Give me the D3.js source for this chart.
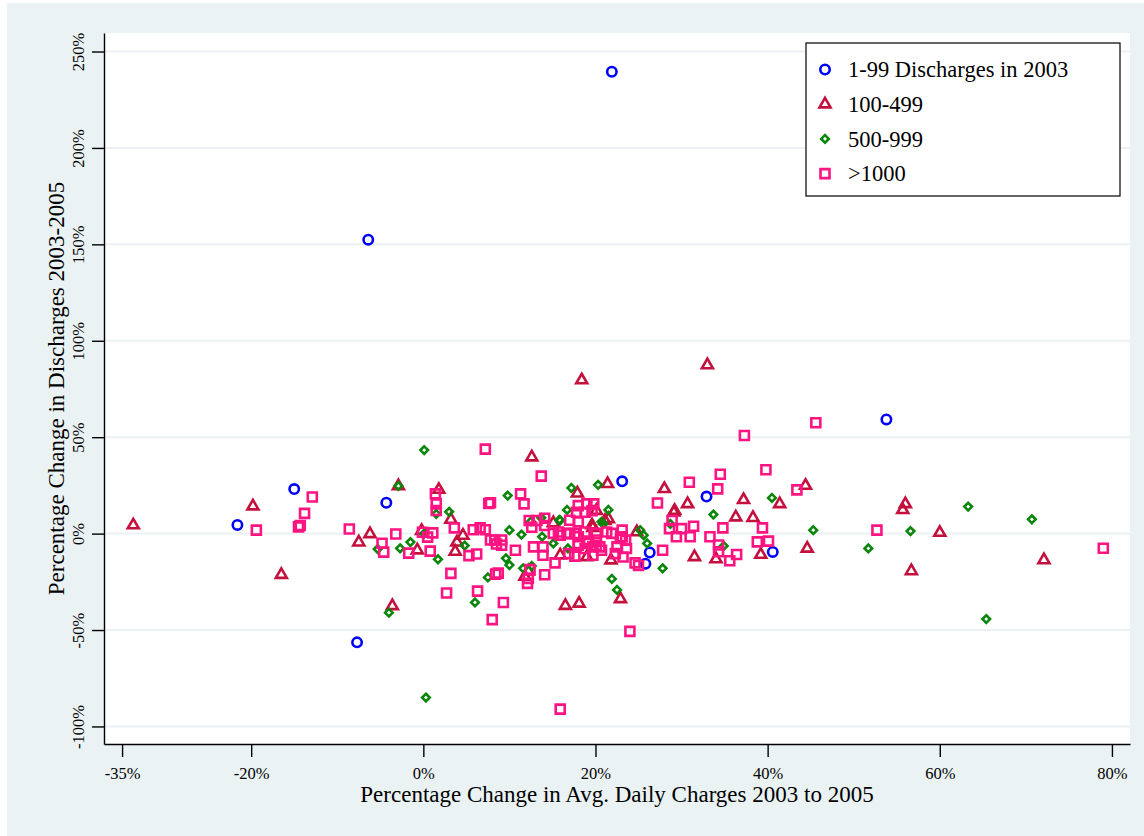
<!DOCTYPE html>
<html lang="en">
<head>
<meta charset="UTF-8">
<title>discharges-vs-charges</title>
<script src="https://cdn.jsdelivr.net/npm/d3@7"></script>
<style>
  body { margin: 0; background: #fff; }
  text { font-family: "Liberation Serif", "Times New Roman", serif; fill: #000; }
</style>
</head>
<body>
<script>
// [x = % change in avg. daily charges, y = % change in discharges]
const small = [
  [21.9, 239.5], [-6.4, 152.4], [53.8, 59.2], [23.1, 27.1], [32.9, 19.2], [-15.0, 23.1],
  [-4.3, 16.0], [-21.6, 4.5], [-7.7, -56.4], [26.3, -9.8], [25.8, -15.6], [40.6, -9.5]
];
const mid = [
  [-33.7, 4.4], [-19.8, 14.2], [-16.5, -21.3], [-6.2, -0.2], [-7.5, -4.5], [-2.9, 24.7],
  [-3.6, -37.5], [-0.2, 1.5], [-0.7, -8.6], [1.8, 22.8], [3.2, 7.3], [4.6, -1.0],
  [3.9, -4.5], [3.7, -9.3], [12.6, 39.6], [17.9, 20.9], [21.4, 25.8], [28.0, 23.2],
  [18.4, 79.6], [33.0, 87.4], [20.1, 11.9], [21.5, 7.6], [21.1, 6.7], [15.1, 5.5],
  [19.7, 3.0], [21.8, -13.8], [19.0, -12.1], [15.9, -11.2], [24.8, 0.8], [11.8, -22.3],
  [16.5, -37.4], [18.1, -36.2], [22.9, -33.9], [19.6, 4.4], [30.7, 15.4], [29.2, 11.9],
  [29.1, 11.0], [36.3, 8.5], [38.3, 8.2], [37.2, 17.5], [41.4, 15.4], [44.4, 24.9],
  [44.6, -7.7], [31.5, -12.1], [34.0, -13.2], [39.2, -10.9], [56.0, 15.4], [55.7, 12.3],
  [60.0, 0.5], [56.7, -19.4], [72.1, -13.7], [12.2, -19.5]
];
const large = [
  [0.1, 43.3], [-2.9, 24.7], [-5.3, -8.0], [-2.7, -7.6], [-1.5, -4.4], [0.1, 0.0],
  [1.7, -13.3], [1.5, 10.2], [3.0, 11.3], [4.8, -6.2], [7.5, -22.7], [6.0, -35.7],
  [-4.0, -41.0], [0.3, -85.0], [17.2, 23.7], [20.3, 25.3], [9.8, 19.7], [16.7, 12.3],
  [21.5, 12.3], [15.8, 7.1], [12.5, 6.3], [13.7, 8.2], [25.2, 1.8], [25.6, -0.8],
  [26.0, -5.1], [27.8, -18.0], [16.8, -7.7], [11.4, -0.5], [13.8, -1.6], [10.0, 1.8],
  [9.6, -12.8], [10.0, -16.3], [11.6, -18.0], [12.6, -16.8], [21.9, -23.5], [22.5, -29.2],
  [15.1, -5.1], [20.9, 5.0], [15.9, 6.9], [20.7, 6.1], [40.5, 18.5], [33.7, 9.9],
  [28.7, 5.0], [45.3, 1.8], [51.7, -7.7], [34.9, -6.4], [63.3, 14.0], [70.7, 7.4],
  [56.6, 1.3], [65.4, -44.3]
];
const over1000 = [
  [7.2, 43.8], [-12.9, 19.0], [-19.4, 1.8], [-13.8, 10.5], [-14.5, 3.5], [-14.3, 4.2],
  [-8.6, 2.4], [-3.2, -0.2], [-4.8, -5.0], [-4.6, -9.6], [-1.7, -10.1], [0.8, -9.1],
  [-0.1, 0.7], [1.1, 0.4], [0.5, -1.8], [1.4, 20.6], [1.5, 15.4], [1.5, 12.0],
  [7.6, 15.6], [3.6, 3.0], [5.3, -11.4], [6.2, -10.6], [5.8, 2.0], [6.6, 3.0],
  [7.2, 2.0], [7.8, -3.3], [8.5, -5.4], [3.2, -20.6], [2.7, -30.8], [6.3, -29.8],
  [8.0, -44.6], [8.4, -21.0], [13.7, 29.8], [27.2, 15.9], [11.3, 20.6], [11.7, 15.4],
  [7.8, 16.0], [12.3, 6.8], [12.6, 3.3], [14.1, 8.0], [14.1, 4.2], [13.2, 6.8],
  [15.1, 0.1], [15.9, -0.8], [17.0, 0.1], [18.0, -1.6], [20.1, 0.1], [20.1, -3.3],
  [19.0, -5.1], [19.7, -6.9], [20.5, -6.9], [19.7, -11.2], [18.8, -7.7], [21.9, 0.1],
  [23.1, 1.8], [23.1, -1.6], [22.5, -6.9], [23.6, -7.7], [23.2, -12.1], [22.3, -10.4],
  [27.8, -8.6], [25.0, -16.5], [17.6, -11.7], [15.3, -15.2], [12.8, -6.9], [13.9, -6.9],
  [13.9, -11.2], [10.7, -8.6], [9.1, -3.3], [9.1, -6.0], [8.3, -3.3], [12.2, -23.2],
  [12.4, -18.7], [14.1, -21.3], [8.7, -20.5], [16.9, -10.4], [18.0, -6.0], [9.3, -35.7],
  [24.0, -50.7], [15.9, -91.0], [12.1, -25.8], [18.0, 14.5], [19.0, 15.4], [19.8, 15.4],
  [17.8, 11.1], [18.8, 11.1], [19.6, 11.9], [17.0, 6.9], [18.0, 6.1], [21.3, 0.8],
  [22.9, -2.5], [23.5, -3.4], [15.7, 0.8], [16.7, 0.0], [17.6, 0.0], [18.8, 0.8],
  [18.0, -5.1], [19.2, -4.3], [20.1, -6.0], [20.7, -8.6], [24.6, -15.2], [45.6, 57.5],
  [37.3, 50.9], [39.8, 33.1], [34.5, 30.8], [30.9, 26.6], [34.2, 23.2], [43.4, 22.7],
  [28.9, 6.8], [28.6, 2.6], [30.0, 2.6], [31.4, 3.8], [29.4, -1.6], [31.0, -1.6],
  [34.8, 3.0], [39.4, 3.0], [33.3, -1.6], [38.8, -4.3], [40.1, -3.9], [52.7, 1.8],
  [34.3, -5.9], [34.3, -9.4], [35.6, -14.1], [36.4, -10.8], [79.0, -7.6]
];

const seriesNames = ['1-99 Discharges in 2003', '100-499', '500-999', '>1000'];
const xTicks = [-35, -20, 0, 20, 40, 60, 80];
const yTicks = [-100, -50, 0, 50, 100, 150, 200, 250];
const xTitle = 'Percentage Change in Avg. Daily Charges 2003 to 2005';
const yTitle = 'Percentage Change in Discharges 2003-2005';

let width = 1144;
let height = 836;
let plot = { left: 104, right: 1130, top: 33, bottom: 744 };

let svg = d3.select('body').append('svg')
  .attr('width', width)
  .attr('height', height);

// outer graph region
svg.append('rect')
  .attr('x', 7).attr('y', 3)
  .attr('width', width - 7).attr('height', height - 3)
  .attr('fill', '#eaf2f3');

svg.append('rect')
  .attr('x', plot.left).attr('y', plot.top)
  .attr('width', plot.right - plot.left).attr('height', plot.bottom - plot.top)
  .attr('fill', '#fff');

let x = d3.scaleLinear().domain([-37.1, 82.1]).range([plot.left, plot.right]);
let y = d3.scaleLinear().domain([-109.1, 259.6]).range([plot.bottom, plot.top]);

// gridlines
svg.append('g').selectAll('line')
  .data(yTicks)
  .join('line')
  .attr('x1', plot.left).attr('x2', plot.right)
  .attr('y1', d => y(d)).attr('y2', d => y(d))
  .attr('stroke', '#eaf2f3')
  .attr('stroke-width', 2);

// axes
let xAxis = d3.axisBottom(x)
  .tickValues(xTicks)
  .tickSize(13)
  .tickSizeOuter(0)
  .tickFormat(d => d + '%');

let gx = svg.append('g')
  .attr('transform', 'translate(0,' + plot.bottom + ')')
  .call(xAxis);
gx.select('.domain').attr('stroke', '#000').attr('stroke-width', 1.4);
gx.selectAll('.tick line').attr('stroke', '#000').attr('stroke-width', 1.4);
gx.selectAll('.tick text')
  .attr('font-size', 16.5)
  .attr('dy', null)
  .attr('y', 35);

let yAxis = d3.axisLeft(y)
  .tickValues(yTicks)
  .tickSize(12)
  .tickSizeOuter(0)
  .tickFormat(d => d + '%');

let gy = svg.append('g')
  .attr('transform', 'translate(' + plot.left + ',0)')
  .call(yAxis);
gy.select('.domain').attr('stroke', '#000').attr('stroke-width', 1.4);
gy.selectAll('.tick line').attr('stroke', '#000').attr('stroke-width', 1.4);
gy.selectAll('.tick text')
  .attr('font-size', 16.5)
  .attr('x', null).attr('dy', null)
  .attr('text-anchor', 'middle')
  .attr('transform', 'translate(-20.5,0) rotate(-90)');

// axis titles
svg.append('text')
  .attr('x', (plot.left + plot.right) / 2)
  .attr('y', 802)
  .attr('text-anchor', 'middle')
  .attr('font-size', 23)
  .text(xTitle);

svg.append('text')
  .attr('transform', 'translate(64,' + (plot.top + plot.bottom) / 2 + ') rotate(-90)')
  .attr('text-anchor', 'middle')
  .attr('font-size', 23)
  .text(yTitle);

// marker shapes
let shapes = {
  circle: r => 'M' + r + ',0A' + r + ',' + r + ' 0 1,1 ' + (-r) + ',0A' + r + ',' + r + ' 0 1,1 ' + r + ',0Z',
  triangle: s => {
    let h = s * Math.sqrt(3) / 2;
    return 'M0,' + (-h * 2 / 3) + 'L' + (s / 2) + ',' + (h / 3) + 'L' + (-s / 2) + ',' + (h / 3) + 'Z';
  },
  diamond: r => 'M0,' + (-r) + 'L' + r + ',0L0,' + r + 'L' + (-r) + ',0Z',
  square: s => 'M' + (-s / 2) + ',' + (-s / 2) + 'h' + s + 'v' + s + 'h' + (-s) + 'Z'
};

let series = [
  { name: seriesNames[0], data: small, color: '#0000ff', shape: shapes.circle(4.7) },
  { name: seriesNames[1], data: mid, color: '#c4103c', shape: shapes.triangle(11) },
  { name: seriesNames[2], data: large, color: '#0a860a', shape: shapes.diamond(3.8) },
  { name: seriesNames[3], data: over1000, color: '#ff1482', shape: shapes.square(9) }
];

series.forEach(s => {
  svg.append('g').selectAll('path')
    .data(s.data)
    .join('path')
    .attr('d', s.shape)
    .attr('transform', d => 'translate(' + x(d[0]) + ',' + y(d[1]) + ')')
    .attr('fill', 'none')
    .attr('stroke', s.color)
    .attr('stroke-width', 2.6);
});

// legend
let legend = svg.append('g').attr('transform', 'translate(806,43)');
legend.append('rect')
  .attr('width', 314).attr('height', 153)
  .attr('fill', '#fff')
  .attr('stroke', '#000')
  .attr('stroke-width', 1.2);

let rows = legend.selectAll('g.row')
  .data(series)
  .join('g')
  .attr('class', 'row')
  .attr('transform', (d, i) => 'translate(0,' + (26.5 + i * 34.7) + ')');

rows.append('path')
  .attr('d', d => d.shape)
  .attr('transform', 'translate(19,0)')
  .attr('fill', 'none')
  .attr('stroke', d => d.color)
  .attr('stroke-width', 2.6);

rows.append('text')
  .attr('x', 42)
  .attr('dy', '0.35em')
  .attr('font-size', 22.5)
  .text(d => d.name);
</script>
</body>
</html>
